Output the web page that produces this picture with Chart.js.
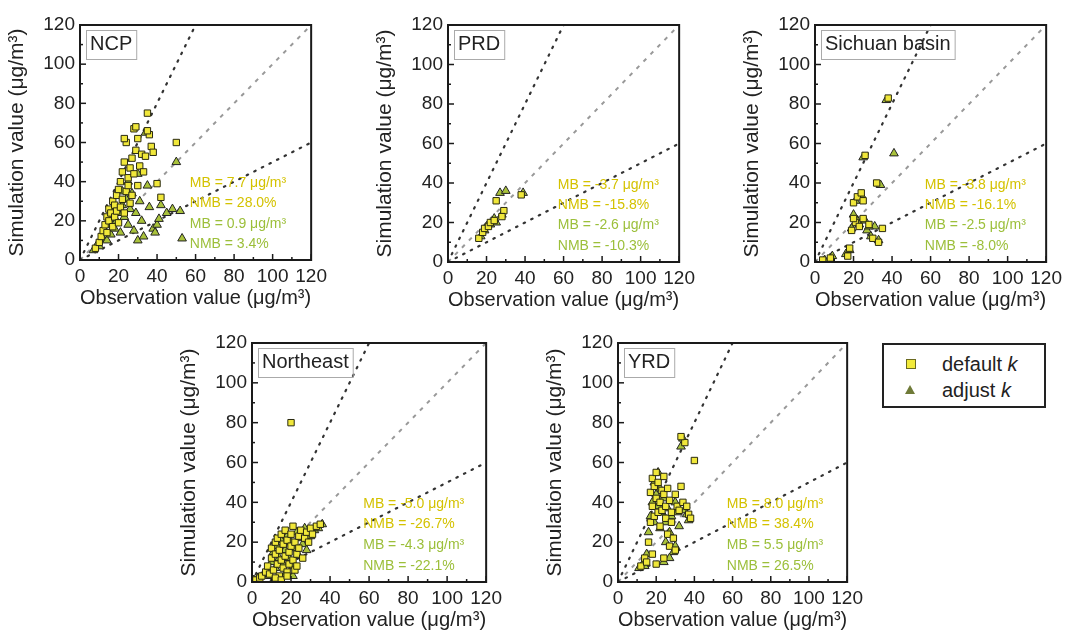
<!DOCTYPE html>
<html>
<head>
<meta charset="utf-8">
<script src="https://cdn.jsdelivr.net/npm/chart.js@4.4.1/dist/chart.umd.min.js"></script>
<style>
  body { margin: 0; background: #fff; font-family: "Liberation Sans", Arial, sans-serif; }
  #wrap { position: relative; width: 1075px; height: 643px; overflow: hidden; }
  canvas { position: absolute; }
  #legend { position: absolute; left: 882px; top: 343px; width: 160px; height: 61px;
    border: 2px solid #222; font-size: 20px; color: #222; }
  .row { position: absolute; left: 0; height: 24px; line-height: 24px; }
  .row span { position: absolute; left: 58px; white-space: nowrap; }
  .sq { position: absolute; left: 22px; top: 7px; width: 8px; height: 8px; background: #f2ea3a; border: 1px solid #6b6a20; }
  .tri { position: absolute; left: 21px; top: 7px; width: 0; height: 0;
    border-left: 5px solid transparent; border-right: 5px solid transparent; border-bottom: 9px solid #6f7a38; }
</style>
</head>
<body>
<div id="wrap">
  <canvas id="c1"></canvas>
  <canvas id="c2"></canvas>
  <canvas id="c3"></canvas>
  <canvas id="c4"></canvas>
  <canvas id="c5"></canvas>
  <div id="legend">
    <div class="row" style="top:7px"><div class="sq"></div><span>default <i>k</i></span></div>
    <div class="row" style="top:33px"><div class="tri"></div><span>adjust <i>k</i></span></div>
  </div>
</div>
<script>
// ---- data ----
const regions = ["NCP", "PRD", "Sichuan basin", "Northeast", "YRD"];
const axisTicks = [0, 20, 40, 60, 80, 100, 120];

const ncpDefaultX = [8, 10, 11, 12, 13, 14, 14, 15, 15, 16, 17, 17, 18, 18, 19, 19, 20, 20, 21, 21, 22, 22, 23, 23, 24, 24, 25, 25, 26, 26, 27, 27, 28, 28, 29, 30, 30, 31, 32, 33, 34, 35, 36, 37, 38, 40, 42, 50, 23, 29, 35];
const ncpDefaultY = [6, 9, 12, 15, 18, 14, 22, 20, 26, 24, 17, 30, 22, 28, 25, 33, 19, 36, 27, 40, 31, 45, 24, 50, 35, 60, 38, 42, 29, 47, 33, 52, 44, 67, 56, 38, 62, 48, 54, 45, 53, 75, 64, 58, 55, 39, 32, 60, 62, 68, 66];
const ncpAdjustX = [7, 9, 10, 12, 13, 14, 15, 16, 17, 18, 18, 19, 20, 21, 22, 22, 23, 24, 25, 25, 26, 27, 28, 29, 30, 31, 32, 34, 35, 36, 38, 39, 40, 41, 42, 45, 48, 50, 52, 53, 30, 33];
const ncpAdjustY = [5, 8, 7, 11, 15, 10, 18, 13, 21, 16, 26, 20, 24, 14, 28, 35, 22, 31, 18, 40, 26, 34, 15, 24, 44, 30, 20, 65, 38, 27, 16, 14, 18, 21, 28, 24, 26, 50, 25, 11, 10, 12];

const prdDefaultX = [16, 18, 19, 21, 22, 24, 25, 29, 28, 38];
const prdDefaultY = [12, 15, 17, 18, 20, 21, 31, 26, 23, 34];
const prdAdjustX = [17, 19, 20, 22, 24, 25, 27, 30, 39, 28];
const prdAdjustY = [13, 16, 18, 19, 22, 20, 35, 36, 35, 24];

const schDefaultX = [4, 8, 17, 18, 19, 20, 21, 22, 23, 24, 25, 26, 28, 30, 32, 33, 35, 38, 25, 20];
const schDefaultY = [1, 2, 3, 7, 16, 30, 20, 33, 18, 35, 22, 54, 19, 12, 40, 10, 17, 83, 31, 22];
const schAdjustX = [5, 9, 16, 18, 19, 21, 22, 23, 24, 26, 27, 29, 31, 33, 34, 41, 37, 25, 20, 28];
const schAdjustY = [1, 3, 4, 6, 17, 31, 21, 19, 34, 21, 16, 13, 18, 11, 39, 55, 82, 53, 24, 18];

const neDefaultX = [2, 4, 5, 7, 8, 9, 10, 10, 11, 12, 12, 13, 13, 14, 14, 15, 15, 16, 16, 17, 17, 18, 18, 19, 19, 20, 20, 21, 21, 22, 22, 23, 24, 24, 25, 26, 27, 28, 29, 30, 31, 33, 35, 20, 12, 15, 18, 23];
const neDefaultY = [1, 2, 3, 5, 8, 4, 12, 17, 6, 14, 20, 9, 22, 3, 16, 11, 24, 7, 19, 13, 26, 5, 21, 15, 9, 18, 24, 11, 28, 6, 20, 14, 23, 17, 26, 12, 22, 25, 20, 27, 24, 28, 29, 80, 2, 1, 3, 8];
const neAdjustX = [1, 3, 6, 8, 9, 10, 11, 12, 13, 14, 15, 16, 17, 18, 19, 20, 21, 22, 23, 24, 25, 26, 27, 28, 30, 32, 34, 36, 13, 17, 21, 11];
const neAdjustY = [1, 2, 4, 6, 3, 10, 15, 7, 18, 12, 21, 9, 16, 23, 12, 20, 8, 17, 25, 13, 22, 19, 27, 16, 23, 26, 27, 29, 2, 4, 3, 1];

const yrdDefaultX = [12, 14, 15, 16, 17, 17, 18, 18, 19, 19, 20, 20, 21, 21, 22, 22, 23, 23, 24, 24, 25, 25, 26, 26, 27, 27, 28, 28, 29, 30, 30, 31, 32, 33, 34, 35, 36, 37, 38, 40, 33, 24, 20, 18];
const yrdDefaultY = [8, 12, 10, 20, 30, 45, 38, 52, 33, 48, 42, 55, 35, 50, 28, 40, 46, 36, 53, 44, 32, 38, 24, 47, 18, 41, 35, 30, 22, 44, 16, 38, 36, 48, 40, 70, 38, 34, 32, 61, 73, 12, 9, 14];
const yrdAdjustX = [11, 13, 14, 15, 16, 17, 18, 19, 19, 20, 21, 22, 22, 23, 24, 25, 25, 26, 27, 28, 29, 30, 31, 32, 33, 34, 35, 36, 37, 21, 24, 27, 30];
const yrdAdjustY = [7, 9, 8, 14, 25, 33, 40, 30, 50, 44, 38, 27, 47, 35, 42, 20, 30, 37, 25, 33, 15, 40, 35, 28, 68, 72, 36, 34, 31, 55, 10, 12, 18];

// reference lines: 2:1, 1:1, 1:2
const line21 = [[0, 0], [60, 120]];
const line11 = [[0, 0], [120, 120]];
const line12 = [[0, 0], [120, 60]];

const statsText = [
  ["MB = 7.7 μg/m³", "NMB = 28.0%", "MB = 0.9 μg/m³", "NMB = 3.4%"],
  ["MB = -3.7 μg/m³", "NMB = -15.8%", "MB = -2.6 μg/m³", "NMB = -10.3%"],
  ["MB = -3.8 μg/m³", "NMB = -16.1%", "MB = -2.5 μg/m³", "NMB = -8.0%"],
  ["MB = -5.0 μg/m³", "NMB = -26.7%", "MB = -4.3 μg/m³", "NMB = -22.1%"],
  ["MB = 8.0 μg/m³", "NMB = 38.4%", "MB = 5.5 μg/m³", "NMB = 26.5%"]
];

// plot areas in page pixels: left, top, right, bottom
const plotBoxes = [
  [80, 25, 317, 260],
  [448, 25, 685, 262],
  [815, 25, 1052, 262],
  [252, 343, 492, 582],
  [618, 343, 853, 582]
];

const seriesData = [
  [ncpDefaultX, ncpDefaultY, ncpAdjustX, ncpAdjustY],
  [prdDefaultX, prdDefaultY, prdAdjustX, prdAdjustY],
  [schDefaultX, schDefaultY, schAdjustX, schAdjustY],
  [neDefaultX, neDefaultY, neAdjustX, neAdjustY],
  [yrdDefaultX, yrdDefaultY, yrdAdjustX, yrdAdjustY]
];

const toPoints = (xs, ys) => xs.map((x, i) => ({ x: x, y: ys[i] }));
const pairPoints = (arr) => arr.map((p) => ({ x: p[0], y: p[1] }));

const FONT = "'Liberation Sans', Arial, sans-serif";
const PAD_LEFT = 80, PAD_TOP = 25, PAD_RIGHT = 15, PAD_BOTTOM = 55;

// frame, inward ticks, region label and stats text
const decorPlugin = {
  id: "decor",
  afterDraw(chart, args, opts) {
    const ctx = chart.ctx;
    const a = chart.chartArea;
    const xs = chart.scales.x, ys = chart.scales.y;
    ctx.save();
    ctx.strokeStyle = "#1a1a1a";
    ctx.lineWidth = 2;
    ctx.strokeRect(a.left, a.top, a.right - a.left, a.bottom - a.top);
    ctx.lineWidth = 1.5;
    for (let v = 0; v <= 120; v += 10) {
      const len = v % 20 === 0 ? 6 : 3;
      const px = xs.getPixelForValue(v);
      ctx.beginPath(); ctx.moveTo(px, a.bottom); ctx.lineTo(px, a.bottom - len); ctx.stroke();
      const py = ys.getPixelForValue(v);
      ctx.beginPath(); ctx.moveTo(a.left, py); ctx.lineTo(a.left + len, py); ctx.stroke();
    }
    // region label
    ctx.font = "20px " + FONT;
    ctx.textBaseline = "top";
    ctx.fillStyle = "#222";
    const tw = ctx.measureText(opts.label).width;
    ctx.fillText(opts.label, a.left + 10, a.top + 9);
    ctx.strokeStyle = "#aaa";
    ctx.lineWidth = 1;
    ctx.strokeRect(a.left + 6.5, a.top + 5.5, tw + 8, 29);
    // stats
    ctx.font = "14px " + FONT;
    ctx.textBaseline = "middle";
    const rows = [39, 29, 18.5, 8];
    const cols = ["#d4c200", "#d4c200", "#9cbf3a", "#9cbf3a"];
    opts.stats.forEach((t, i) => {
      ctx.fillStyle = cols[i];
      ctx.fillText(t, xs.getPixelForValue(57), ys.getPixelForValue(rows[i]));
    });
    ctx.restore();
  }
};

const makeAxis = (title, isY) => ({
  type: "linear",
  min: 0,
  max: 120,
  afterBuildTicks: (scale) => { scale.ticks = axisTicks.map((v) => ({ value: v })); },
  afterFit: (scale) => {
    if (isY) scale.width = PAD_LEFT; else scale.height = PAD_BOTTOM;
  },
  grid: { display: false, drawTicks: false },
  border: { display: false },
  ticks: {
    autoSkip: false,
    maxRotation: 0,
    padding: 5,
    color: "#222",
    font: { family: FONT, size: 19 }
  },
  title: {
    display: true,
    text: title,
    color: "#222",
    font: { family: FONT, size: 21 },
    padding: isY ? { top: 5, bottom: 0 } : { top: 0, bottom: 4 }
  }
});

regions.forEach((name, i) => {
  const [L, T, R, B] = plotBoxes[i];
  const cv = document.getElementById("c" + (i + 1));
  const w = (R - L) + PAD_LEFT + PAD_RIGHT;
  const h = (B - T) + PAD_TOP + PAD_BOTTOM;
  cv.width = w; cv.height = h;
  cv.style.left = (L - PAD_LEFT) + "px";
  cv.style.top = (T - PAD_TOP) + "px";
  cv.style.width = w + "px"; cv.style.height = h + "px";
  const [dx, dy, ax, ay] = seriesData[i];

  new Chart(cv, {
    type: "scatter",
    data: {
      datasets: [
        { label: "2:1", data: pairPoints(line21), showLine: true, pointRadius: 0,
          borderColor: "#333", borderWidth: 2.2, borderDash: [1.5, 7], borderCapStyle: "round", order: 5 },
        { label: "1:1", data: pairPoints(line11), showLine: true, pointRadius: 0,
          borderColor: "#999", borderWidth: 2, borderDash: [4, 6], order: 5 },
        { label: "1:2", data: pairPoints(line12), showLine: true, pointRadius: 0,
          borderColor: "#333", borderWidth: 2.2, borderDash: [1.5, 7], borderCapStyle: "round", order: 5 },
        { label: "adjust k", data: toPoints(ax, ay), pointStyle: "triangle", pointRadius: 5,
          backgroundColor: "#a9c23b", borderColor: "#222", borderWidth: 1, order: 2 },
        { label: "default k", data: toPoints(dx, dy), pointStyle: "rect", pointRadius: 4.5,
          backgroundColor: "#f0e73a", borderColor: "#2a2a10", borderWidth: 1, order: 1 }
      ]
    },
    options: {
      responsive: false,
      animation: false,
      layout: { padding: { top: PAD_TOP, right: PAD_RIGHT, left: 0, bottom: 0 } },
      scales: {
        x: makeAxis("Observation value (μg/m³)", false),
        y: makeAxis("Simulation value (μg/m³)", true)
      },
      plugins: {
        legend: { display: false },
        tooltip: { enabled: false },
        decor: { label: name, stats: statsText[i] }
      }
    },
    plugins: [decorPlugin]
  });
});
</script>
</body>
</html>
